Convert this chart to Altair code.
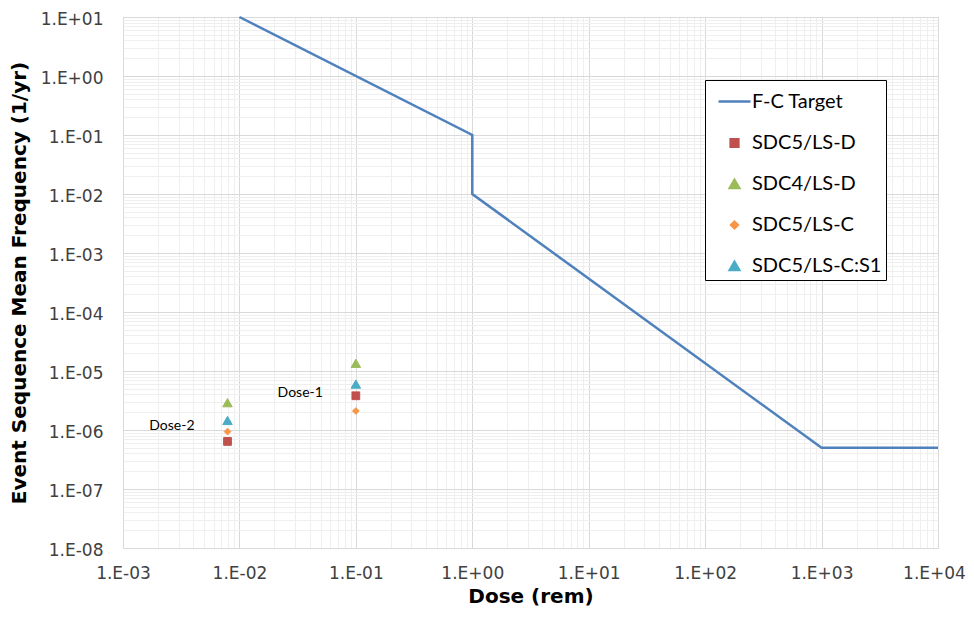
import altair as alt
import pandas as pd

# F-C target curve
target_dose = [0.01, 1.0, 1.0, 1000.0, 10000.0]
target_freq = [10.0, 0.1, 0.01, 5e-7, 5e-7]

# Event sequence points
series_names = ["SDC5/LS-D", "SDC4/LS-D", "SDC5/LS-C", "SDC5/LS-C:S1"]
dose2_x = 0.0079
dose1_x = 0.1
dose2_freq = [6.4e-7, 2.9e-6, 9.4e-7, 1.45e-6]
dose1_freq = [3.8e-6, 1.35e-5, 2.1e-6, 6.0e-6]

# annotation labels
label_text = ["Dose-2", "Dose-1"]
label_x = [0.0079, 0.1]
label_y = [1.15e-6, 4.2e-6]

legend_domain = ["F-C Target"] + series_names
legend_colors = ["#4F81BD", "#C0504D", "#9BBB59", "#F79646", "#4BACC6"]
legend_shapes = ["stroke", "square", "triangle-up", "diamond", "triangle-up"]
legend_sizes = [1024, 60, 90, 45, 90]

x_decades = [1e-3, 1e-2, 1e-1, 1e0, 1e1, 1e2, 1e3, 1e4]
y_decades = [1e-8, 1e-7, 1e-6, 1e-5, 1e-4, 1e-3, 1e-2, 1e-1, 1e0, 1e1]
x_ticks = sorted(set(x_decades + [m * d for d in x_decades[:-1] for m in range(2, 10)]))
y_ticks = sorted(set(y_decades + [m * d for d in y_decades[:-1] for m in range(2, 10)]))

line_df = pd.DataFrame({"dose": target_dose, "freq": target_freq, "order": list(range(len(target_dose)))})
pts_df = pd.DataFrame({
    "dose": [dose2_x] * 4 + [dose1_x] * 4,
    "freq": dose2_freq + dose1_freq,
    "series": series_names * 2,
})
lab_df = pd.DataFrame({"text": label_text, "dose": label_x, "freq": label_y})

is_decade = "abs(log(datum.value)/LN10 - round(log(datum.value)/LN10)) < 1e-6"
exp_s = "round(log(datum.value)/LN10)"
label_expr = f"({is_decade}) ? ('1.E' + ({exp_s} < 0 ? '-' : '+') + '0' + abs({exp_s})) : ''"
grid_color = {"condition": {"test": is_decade, "value": "#D9D9D9"}, "value": "#EFEFEF"}

FONT = "DejaVu Sans"

x_enc = alt.X(
    "dose:Q",
    scale=alt.Scale(type="log", domain=[1e-3, 1e4], nice=False),
    axis=alt.Axis(
        title="Dose (rem)", values=x_ticks, labelExpr=label_expr, gridColor=grid_color,
        ticks=False, domain=False, labelOverlap=False, labelFont=FONT, labelFontSize=17,
        labelColor="#404040", labelPadding=17, labelFlush=False,
        labelOffset={"condition": {"test": "datum.value > 5000", "value": -4}, "value": 0},
        titleFont=FONT, titleFontSize=20, titleFontWeight="bold", titleColor="#000000",
        titleY=38,
    ),
)
y_enc = alt.Y(
    "freq:Q",
    scale=alt.Scale(type="log", domain=[1e-8, 1e1], nice=False),
    axis=alt.Axis(
        title="Event Sequence Mean Frequency (1/yr)", values=y_ticks, labelExpr=label_expr,
        gridColor=grid_color, ticks=False, domain=False, labelOverlap=False, labelFont=FONT,
        labelFontSize=17, labelColor="#404040", labelPadding=20, labelFlush=False,
        labelOffset=2,
        titleFont=FONT, titleFontSize=20, titleFontWeight="bold", titleColor="#000000",
        titleX=-94,
    ),
)

legend = alt.Legend(
    title=None, orient="none", legendX=582, legendY=63, fillColor="white",
    strokeColor="#000000", padding=4, symbolOffset=8, labelOffset=0, rowPadding=21,
    labelFont="Lato", labelFontSize=20, labelColor="#000000", symbolStrokeWidth=2.5,
    symbolOpacity=1,
)

line = alt.Chart(line_df).mark_line(color="#4F81BD", strokeWidth=2.5).encode(
    x=x_enc, y=y_enc, order="order:Q"
)

pts = alt.Chart(pts_df).mark_point(filled=True, opacity=1, strokeWidth=1).encode(
    x=x_enc, y=y_enc,
    fill=alt.Fill("series:N", scale=alt.Scale(domain=legend_domain, range=legend_colors), legend=legend),
    stroke=alt.Stroke("series:N", scale=alt.Scale(domain=legend_domain, range=legend_colors), legend=legend),
    shape=alt.Shape("series:N", scale=alt.Scale(domain=legend_domain, range=legend_shapes), legend=legend),
    size=alt.Size("series:N", scale=alt.Scale(type="ordinal", domain=legend_domain, range=legend_sizes), legend=legend),
)

labels = alt.Chart(lab_df).mark_text(
    align="right", baseline="middle", dx=-33, font="Lato", fontSize=14, color="#000000"
).encode(x=x_enc, y=y_enc, text="text:N")

chart = alt.layer(line, pts, labels).properties(
    width=815, height=531,
    autosize=alt.AutoSizeParams(type="none"),
    padding={"left": 115, "top": 9, "right": 28, "bottom": 58},
).configure_view(stroke="#3F3F3F", strokeWidth=1.2).configure(background="white")

chart.save("out.html", embed_options={"renderer": "svg", "actions": False})
